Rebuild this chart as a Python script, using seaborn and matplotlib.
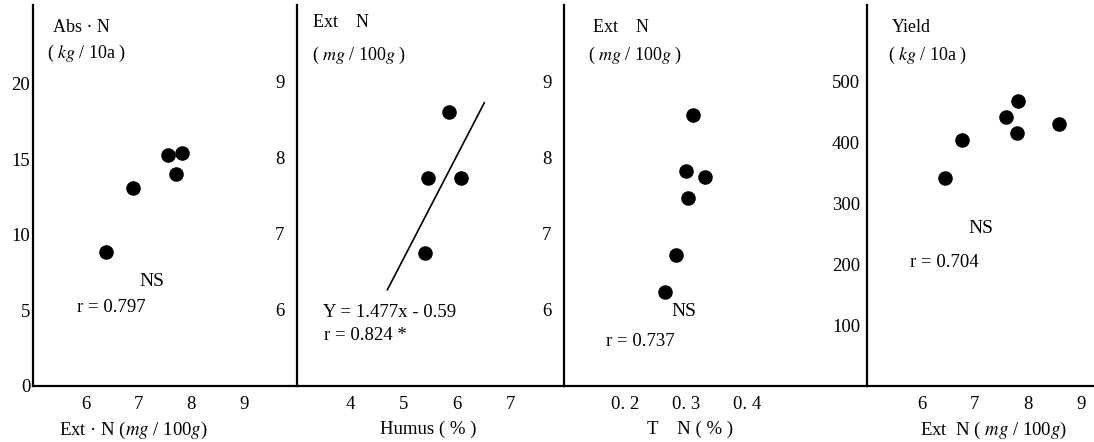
import numpy as np
import pandas as pd
import matplotlib
matplotlib.use("Agg")
import matplotlib.pyplot as plt
import seaborn as sns

# panel 1: Abs-N vs Ext-N
abs_extn = [6.39, 6.89, 7.55, 7.82, 7.71]
abs_n = [8.85, 13.1, 15.3, 15.4, 14.0]

# panel 2: Ext-N vs Humus
humus = [5.85, 5.46, 6.07, 5.40]
extn_humus = [8.59, 7.73, 7.73, 6.75]
fit_x = [4.69, 6.51]
fit_y = [6.26, 8.72]

# panel 3: Ext-N vs T-N
tn = [0.312, 0.300, 0.331, 0.303, 0.284, 0.265]
extn_tn = [8.56, 7.82, 7.74, 7.47, 6.72, 6.24]

# panel 4: Yield vs Ext-N
yield_extn = [6.45, 6.76, 7.60, 7.81, 7.80, 8.59]
yield_kg = [341, 404, 442, 468, 415, 430]

sns.set_theme(style="white")
plt.rcParams["font.family"] = ["Liberation Serif", "DejaVu Serif"]
plt.rcParams["mathtext.fontset"] = "stix"
plt.rcParams["text.color"] = "black"
plt.rcParams["axes.labelcolor"] = "black"

fig = plt.figure(figsize=(10.94, 4.42), dpi=100)
W, H = 1094, 442
bottom = (H - 386) / H
height = 381 / H

def make_ax(left_px, width_px):
    return fig.add_axes([left_px / W, bottom, width_px / W, height])

ax1 = make_ax(33, 264)
ax2 = make_ax(297, 267)
ax3 = make_ax(564, 303)
ax4 = make_ax(867, 227)

panels = [
    (ax1, abs_extn, abs_n, (5, 10), (0, 25.2), [6, 7, 8, 9], [0, 5, 10, 15, 20], 2),
    (ax2, humus, extn_humus, (3, 8), (5, 10), [4, 5, 6, 7], [6, 7, 8, 9], 9),
    (ax3, tn, extn_tn, (0.1, 0.597), (5, 10), [0.2, 0.3, 0.4], [6, 7, 8, 9], 9),
    (ax4, yield_extn, yield_kg, (4.97, 9.25), (0, 625), [6, 7, 8, 9], [100, 200, 300, 400, 500], 5),
]

for ax, xs, ys, xl, yl, xt, yt, ypad in panels:
    df = pd.DataFrame({"x": xs, "y": ys})
    sns.scatterplot(data=df, x="x", y="y", ax=ax, color="black", s=110, edgecolor="black", linewidth=0)
    ax.set_xlim(*xl)
    ax.set_ylim(*yl)
    ax.set_xticks(xt)
    ax.set_yticks(yt)
    ax.set_ylabel("")
    ax.set_facecolor("none")
    for side in ["top", "right"]:
        ax.spines[side].set_visible(False)
    for side in ["left", "bottom"]:
        ax.spines[side].set_color("black")
        ax.spines[side].set_linewidth(1.6)
    ax.tick_params(axis="both", direction="in", length=8, width=1.3, colors="black", labelsize=13.5)
    ax.tick_params(axis="y", pad=ypad)
    ax.tick_params(axis="x", pad=7)

# axis labels
ax1.set_xlabel(r"Ext · N ($\it{mg}$ / 100$\it{g}$)", fontsize=13.5, labelpad=3)
ax2.set_xlabel("Humus ( % )", fontsize=13.5, labelpad=3)
ax3.set_xlabel("T    N ( % )", fontsize=13.5, labelpad=3)
ax4.set_xlabel(r"Ext  N ( $\it{mg}$ / 100$\it{g}$)", fontsize=13.5, labelpad=3)
ax3.set_xticklabels(["0. 2", "0. 3", "0. 4"])
ax1.xaxis.set_label_coords(0.38, -0.09)
ax2.xaxis.set_label_coords(0.49, -0.09)
ax3.xaxis.set_label_coords(0.416, -0.09)
ax4.xaxis.set_label_coords(0.555, -0.09)

# y titles inside panels
def head(ax, x, y, s):
    ax.text(x, y, s, transform=ax.transAxes, fontsize=13, ha="left", va="center")

head(ax1, 0.076, 0.942, "Abs · N")
head(ax1, 0.053, 0.874, r"( $\it{kg}$ / 10a )")
head(ax2, 0.06, 0.955, "Ext    N")
head(ax2, 0.056, 0.868, r"( $\it{mg}$ / 100$\it{g}$ )")
head(ax3, 0.096, 0.94, "Ext    N")
head(ax3, 0.08, 0.868, r"( $\it{mg}$ / 100$\it{g}$ )")
head(ax4, 0.11, 0.94, "Yield")
head(ax4, 0.092, 0.868, r"( $\it{kg}$ / 10a )")

# regression line and statistics
sns.lineplot(x=fit_x, y=fit_y, ax=ax2, color="black", linewidth=1.2)
ax1.text(7.26, 6.9, "NS", fontsize=14, ha="center", va="center")
ax1.text(5.83, 5.2, "r = 0.797", fontsize=13.5, ha="left", va="center")
ax2.text(3.49, 5.96, "Y = 1.477x - 0.59", fontsize=13.5, ha="left", va="center")
ax2.text(3.51, 5.66, "r = 0.824 *", fontsize=13.5, ha="left", va="center")
ax3.text(0.296, 5.98, "NS", fontsize=14, ha="center", va="center")
ax3.text(0.169, 5.58, "r = 0.737", fontsize=13.5, ha="left", va="center")
ax4.text(7.12, 259, "NS", fontsize=14, ha="center", va="center")
ax4.text(5.78, 202, "r = 0.704", fontsize=13.5, ha="left", va="center")

fig.savefig("out.png", dpi=100, facecolor="white")
